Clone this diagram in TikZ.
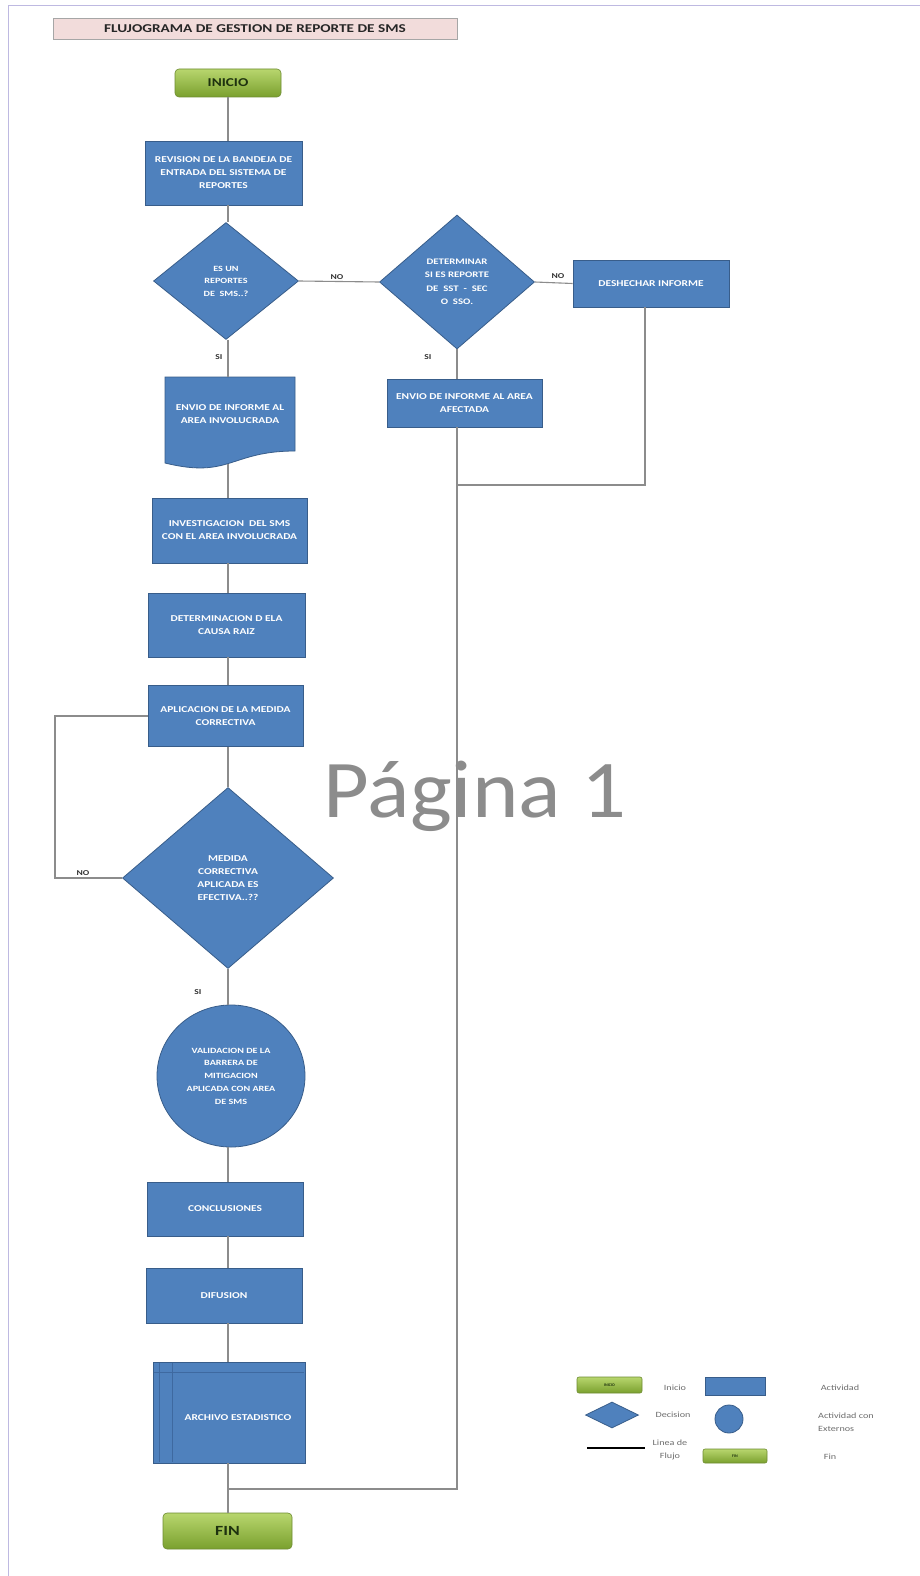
\documentclass[tikz,border=0pt]{standalone}
\usepackage{fontspec}
\setmainfont{Carlito}
\newfontfamily\wf[FakeStretch=1.27]{Carlito}
\newfontfamily\wmf[FakeStretch=1.08]{Carlito}
\usetikzlibrary{shapes.geometric,calc}
\definecolor{actblue}{RGB}{79,129,189}
\definecolor{actborder}{RGB}{56,93,138}
\definecolor{flowgray}{RGB}{140,140,140}
\definecolor{termtop}{RGB}{184,214,110}
\definecolor{termbot}{RGB}{122,160,46}
\definecolor{termborder}{RGB}{110,140,50}
\definecolor{termtext}{RGB}{30,50,15}
\definecolor{titlefill}{RGB}{242,220,219}
\definecolor{titleborder}{RGB}{166,166,166}
\definecolor{pageborder}{RGB}{190,185,225}
\definecolor{legtext}{RGB}{110,110,110}
\definecolor{archline}{RGB}{62,105,160}
\newcommand\bxf{\wf\fontsize{9}{13}\selectfont\bfseries}
\begin{document}
\begin{tikzpicture}[x=1pt,y=-1pt,
  act/.style={draw=actborder, fill=actblue, line width=0.8pt, text=white, font=\bxf, align=center, inner sep=0pt},
  dec/.style={act, diamond, aspect=1},
  term/.style={draw=termborder, line width=0.6pt, rounded corners=4pt, top color=termtop, bottom color=termbot, text=termtext, font=\wf\bfseries\fontsize{12}{14}\selectfont, inner sep=0pt},
  flow/.style={draw=flowgray, line width=1.1pt},
  lbl/.style={font=\wf\bfseries\fontsize{7.5}{8}\selectfont, text=black!80, inner sep=0pt},
  leg/.style={font=\wf\fontsize{8}{13}\selectfont, text=legtext, inner sep=0pt, align=center}
]
\useasboundingbox (0,0) rectangle (920,1576);
\fill[white] (0,0) rectangle (920,1576);
\draw[pageborder, line width=1pt] (8,1576) -- (8,6) -- (920,6);

% title
\node[draw=titleborder, fill=titlefill, line width=0.8pt, minimum width=404pt, minimum height=21pt, inner sep=0pt,
  font=\wf\bfseries\fontsize{12}{13}\selectfont, text=black!85] (title) at (255,29) {FLUJOGRAMA DE GESTION DE REPORTE DE SMS};

% watermark
\node[font=\wmf\fontsize{82}{90}\selectfont, text=black!45, inner sep=0pt] (wm) at (475,796) {Página 1};

% coordinates for the connector columns
\coordinate (col) at (228,0);
\coordinate (col2) at (457,0);
\coordinate (loopx) at (55,0);
\coordinate (join) at (457,485);
\coordinate (merge) at (228,1489);

% main column
\node[term, minimum width=106pt, minimum height=28pt] (inicio) at (228,83) {INICIO};
\node[act, minimum width=157pt, minimum height=64pt] (rev) at (223.5,173) {REVISION DE LA BANDEJA DE\\ENTRADA DEL SISTEMA DE\\REPORTES};
\node[dec, minimum width=145pt, minimum height=117pt, font=\wf\fontsize{8}{12.5}\selectfont\bfseries] (d1) at (226,281) {ES UN\\REPORTES\\DE \ SMS..?};
\node[dec, minimum width=155pt, minimum height=134pt, font=\wf\fontsize{8.5}{13.5}\selectfont\bfseries] (d2) at (457,282) {DETERMINAR\\SI ES REPORTE\\DE \ SST \ - \ SEC\\O \ SSO.};
\node[act, minimum width=156pt, minimum height=47pt] (desh) at (651,283.5) {DESHECHAR INFORME};
\node[act, minimum width=155pt, minimum height=48pt] (afect) at (464.5,403) {ENVIO DE INFORME AL AREA\\AFECTADA};

% document shape
\fill[actblue, draw=actborder, line width=0.8pt] (165,377) -- (295,377) -- (295,451)
  .. controls (230,451) and (230,479) .. (165,463) -- cycle;
\node[text=white, font=\bxf, align=center, inner sep=0pt] (doc) at (230,414) {ENVIO DE INFORME AL\\AREA INVOLUCRADA};
\coordinate (doctop) at (228,377);
\coordinate (docbot) at (228,464);

\node[act, minimum width=155pt, minimum height=65pt] (inv) at (229.5,530.5) {INVESTIGACION \ DEL SMS\\CON EL AREA INVOLUCRADA};
\node[act, minimum width=157pt, minimum height=64pt] (det) at (226.5,625) {DETERMINACION D ELA\\CAUSA RAIZ};
\node[act, minimum width=155pt, minimum height=61pt] (apl) at (225.5,716) {APLICACION DE LA MEDIDA\\CORRECTIVA};
\node[dec, minimum width=211pt, minimum height=181pt] (d3) at (228,878) {MEDIDA\\CORRECTIVA\\APLICADA ES\\EFECTIVA..??};
\node[act, ellipse, minimum width=148pt, minimum height=142pt, font=\wf\fontsize{8}{12.7}\selectfont\bfseries] (val) at (231,1076) {VALIDACION DE LA\\BARRERA DE\\MITIGACION\\APLICADA CON AREA\\DE SMS};
\node[act, minimum width=156pt, minimum height=54pt] (conc) at (225,1209) {CONCLUSIONES};
\node[act, minimum width=156pt, minimum height=55pt] (dif) at (224,1295.5) {DIFUSION};
\node[act, minimum width=152pt, minimum height=101pt] (arch) at (229,1412.5) {};
\draw[archline, line width=0.7pt] (159,1363) -- (159,1462) (172,1363) -- (172,1462) (154,1372) -- (304,1372);
\node[text=white, font=\bxf, inner sep=0pt] (archt) at (238,1418) {ARCHIVO ESTADISTICO};
\node[term, minimum width=129pt, minimum height=36pt, font=\wf\bfseries\fontsize{14}{15}\selectfont] (fin) at (227.5,1531) {FIN};

% connectors
\draw[flow] (inicio.south) -- (col |- rev.north);
\draw[flow] (col |- rev.south) -- (col |- d1.north);
\draw[flow] (d1.east) -- (d2.west);
\draw[flow] (d2.east) -- (desh.west);
\draw[flow] (d2.south) -- (d2.south |- afect.north);
\draw[flow] (col |- d1.south) -- (doctop);
\draw[flow] (docbot) -- (col |- inv.north);
\draw[flow] (col |- inv.south) -- (col |- det.north);
\draw[flow] (col |- det.south) -- (col |- apl.north);
\draw[flow] (col |- apl.south) -- (d3.north);
\draw[flow] (apl.west) -- (apl.west -| loopx) |- (d3.west);
\draw[flow] (d3.south) -- (col |- val.north);
\draw[flow] (col |- val.south) -- (col |- conc.north);
\draw[flow] (col |- conc.south) -- (col |- dif.north);
\draw[flow] (col |- dif.south) -- (col |- arch.north);
\draw[flow] (col |- arch.south) -- (col |- fin.north);
\draw[flow] (645,307) coordinate (deshb) -- (deshb |- join) -- (join);
\draw[flow] (col2 |- afect.south) -- (col2 |- merge) -- (merge);

% labels
\node[lbl] (no1) at (337,277) {NO};
\node[lbl] (no2) at (558,276) {NO};
\node[lbl] (si1) at (219,357) {SI};
\node[lbl] (si2) at (428,357) {SI};
\node[lbl] (no3) at (83,873) {NO};
\node[lbl] (si3) at (198,992) {SI};

% legend
\node[term, rounded corners=2pt, minimum width=65pt, minimum height=16pt, font=\bfseries\fontsize{4}{5}\selectfont] (lgini) at (609.5,1385) {INICIO};
\node[leg] (lginit) at (675,1388) {Inicio};
\node[act, minimum width=60pt, minimum height=18pt] (lgact) at (735,1386) {};
\node[leg] (lgactt) at (840,1388) {Actividad};
\node[dec, minimum width=53pt, minimum height=26pt, aspect=2] (lgdec) at (612,1415) {};
\node[leg] (lgdect) at (673,1415) {Decision};
\node[act, circle, minimum size=28pt] (lgcir) at (729,1419) {};
\node[leg, align=left, anchor=west] (lgcirt) at (818,1422) {Actividad con\\Externos};
\coordinate (lgl1) at (587,1448);
\coordinate (lgl2) at (645,1448);
\draw[black, line width=1.3pt] (lgl1) -- (lgl2);
\node[leg] (lglt) at (670,1449.5) {Linea de\\Flujo};
\node[term, rounded corners=2pt, minimum width=64pt, minimum height=14pt, font=\bfseries\fontsize{4}{5}\selectfont] (lgfin) at (735,1456) {FIN};
\node[leg] (lgfint) at (830,1457) {Fin};
\end{tikzpicture}
\end{document}
